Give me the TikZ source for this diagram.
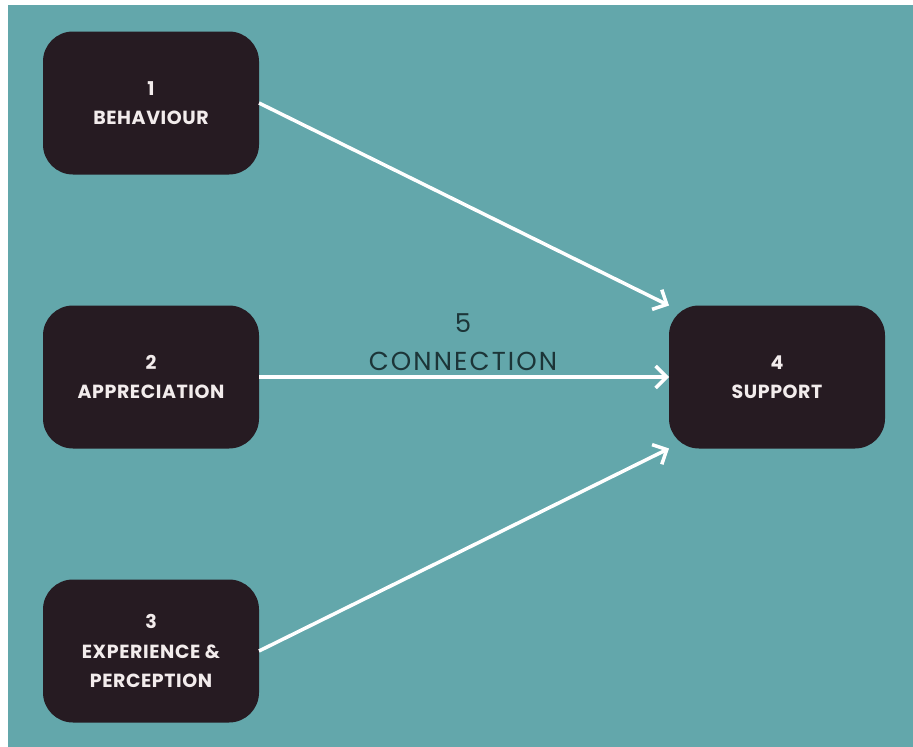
\documentclass[tikz,border=0pt]{standalone}
\usepackage{fontspec}
\setmainfont{Poppins}
\usetikzlibrary{arrows.meta}
\definecolor{tealbg}{HTML}{63A7AB}
\definecolor{boxdark}{HTML}{261B22}
\definecolor{boxtext}{HTML}{F2ECEC}
\definecolor{labeldark}{HTML}{1C3538}
\begin{document}
\begin{tikzpicture}[x=1pt,y=-1pt,
    stage/.style={fill=boxdark, rounded corners=30pt, minimum width=216pt,
        minimum height=143pt, outer sep=0pt, align=center, text=boxtext,
        font=\fontsize{19}{29.5}\selectfont\bfseries\addfontfeatures{LetterSpace=3}},
    link/.style={draw=white, line width=3.5pt, -{Straight Barb[length=11pt,width=22pt]}}]
        \useasboundingbox (0,0) rectangle (913,747);
        % Background
        \fill[white] (0,0) rectangle (913,747);
        \fill[tealbg] (8,5) rectangle (913,747);

        % Boxes on the left
        \node[stage] (behaviour) at (151,103) {1\\BEHAVIOUR};
        \node[stage] (appreciation) at (151,377) {2\\APPRECIATION};
        \node[stage] (experience) at (151,651) {3\\EXPERIENCE \&\\PERCEPTION};

        % Box on the right
        \node[stage] (support) at (777,377) {4\\SUPPORT};

        % Arrows into support
        \draw[link] (behaviour.east) -- (support.north west);
        \draw[link] (appreciation.east) -- (support.west);
        \draw[link] (experience.east) -- (support.south west);

        % Label over the middle arrow
        \node[text=labeldark, align=center,
            font=\fontsize{26}{38}\selectfont\addfontfeatures{LetterSpace=8}]
            (connection) at (463,342) {5\\CONNECTION};
    \end{tikzpicture}
\end{document}
